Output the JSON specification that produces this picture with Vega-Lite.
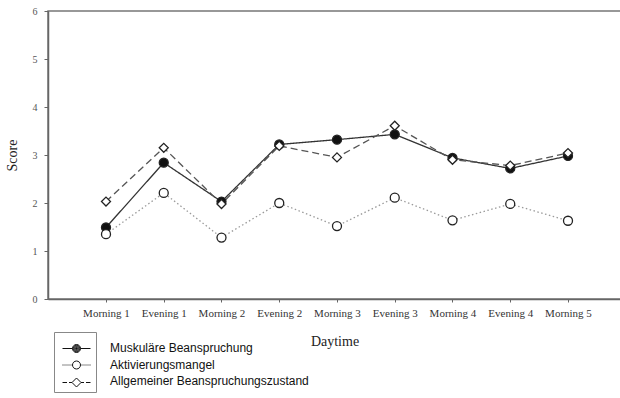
{
  "$schema": "https://vega.github.io/schema/vega-lite/v6.json",
  "autosize": "none",
  "width": 573,
  "height": 288,
  "padding": {"left": 48, "top": 11, "right": 0, "bottom": 99},
  "background": "white",
  "config": {
    "view": {"stroke": "#777", "strokeWidth": 1.5},
    "axis": {
      "grid": false,
      "labelFont": "Liberation Serif",
      "titleFont": "Liberation Serif",
      "titleFontWeight": "normal",
      "domainColor": "#666",
      "domainWidth": 1.5,
      "tickColor": "#666",
      "tickWidth": 1
    }
  },
  "data": {
    "values": [
      {"time": "Morning 1", "series": "Muskuläre Beanspruchung", "score": 1.49},
      {"time": "Evening 1", "series": "Muskuläre Beanspruchung", "score": 2.84},
      {"time": "Morning 2", "series": "Muskuläre Beanspruchung", "score": 2.03},
      {"time": "Evening 2", "series": "Muskuläre Beanspruchung", "score": 3.22},
      {"time": "Morning 3", "series": "Muskuläre Beanspruchung", "score": 3.32},
      {"time": "Evening 3", "series": "Muskuläre Beanspruchung", "score": 3.43},
      {"time": "Morning 4", "series": "Muskuläre Beanspruchung", "score": 2.94},
      {"time": "Evening 4", "series": "Muskuläre Beanspruchung", "score": 2.72},
      {"time": "Morning 5", "series": "Muskuläre Beanspruchung", "score": 2.98},
      {"time": "Morning 1", "series": "Aktivierungsmangel", "score": 1.35},
      {"time": "Evening 1", "series": "Aktivierungsmangel", "score": 2.21},
      {"time": "Morning 2", "series": "Aktivierungsmangel", "score": 1.28},
      {"time": "Evening 2", "series": "Aktivierungsmangel", "score": 2.0},
      {"time": "Morning 3", "series": "Aktivierungsmangel", "score": 1.52},
      {"time": "Evening 3", "series": "Aktivierungsmangel", "score": 2.11},
      {"time": "Morning 4", "series": "Aktivierungsmangel", "score": 1.64},
      {"time": "Evening 4", "series": "Aktivierungsmangel", "score": 1.98},
      {"time": "Morning 5", "series": "Aktivierungsmangel", "score": 1.63},
      {"time": "Morning 1", "series": "Allgemeiner Beanspruchungszustand", "score": 2.03},
      {"time": "Evening 1", "series": "Allgemeiner Beanspruchungszustand", "score": 3.15},
      {"time": "Morning 2", "series": "Allgemeiner Beanspruchungszustand", "score": 1.98},
      {"time": "Evening 2", "series": "Allgemeiner Beanspruchungszustand", "score": 3.19},
      {"time": "Morning 3", "series": "Allgemeiner Beanspruchungszustand", "score": 2.95},
      {"time": "Evening 3", "series": "Allgemeiner Beanspruchungszustand", "score": 3.61},
      {"time": "Morning 4", "series": "Allgemeiner Beanspruchungszustand", "score": 2.9},
      {"time": "Evening 4", "series": "Allgemeiner Beanspruchungszustand", "score": 2.78},
      {"time": "Morning 5", "series": "Allgemeiner Beanspruchungszustand", "score": 3.04}
    ]
  },
  "encoding": {
    "x": {
      "field": "time",
      "type": "nominal",
      "title": "Daytime",
      "scale": {
        "type": "point",
        "domain": ["Morning 1", "Evening 1", "Morning 2", "Evening 2", "Morning 3", "Evening 3", "Morning 4", "Evening 4", "Morning 5"],
        "padding": 0.961,
        "align": 0.5225
      },
      "axis": {
        "labelAngle": 0,
        "labelFontSize": 11,
        "labelColor": "#333",
        "labelPadding": 5,
        "tickSize": 3,
        "titleFontSize": 14,
        "titleColor": "#222",
        "titlePadding": 16
      }
    },
    "y": {
      "field": "score",
      "type": "quantitative",
      "title": "Score",
      "scale": {"domain": [0, 6], "nice": false},
      "axis": {
        "values": [0, 1, 2, 3, 4, 5, 6],
        "format": "d",
        "labelFontSize": 10,
        "labelColor": "#555",
        "labelPadding": 7,
        "tickSize": 4,
        "titleFontSize": 14,
        "titleColor": "#222",
        "titlePadding": 13
      }
    }
  },
  "layer": [
    {
      "mark": {"type": "line", "strokeWidth": 1.3},
      "encoding": {
        "color": {
          "field": "series",
          "type": "nominal",
          "scale": {
            "domain": ["Muskuläre Beanspruchung", "Aktivierungsmangel", "Allgemeiner Beanspruchungszustand"],
            "range": ["#333333", "#9a9a9a", "#555555"]
          },
          "legend": {
            "orient": "none",
            "legendX": 46,
            "legendY": 331,
            "title": null,
            "padding": 0,
            "symbolSize": 100,
            "symbolOpacity": 0,
            "labelOffset": 4,
            "labelFont": "Liberation Sans",
            "labelFontSize": 12,
            "labelColor": "#111",
            "labelLimit": 400,
            "rowPadding": 4.5
          }
        },
        "strokeDash": {
          "field": "series",
          "type": "nominal",
          "legend": null,
          "scale": {
            "domain": ["Muskuläre Beanspruchung", "Aktivierungsmangel", "Allgemeiner Beanspruchungszustand"],
            "range": [[1, 0], [1.5, 2.5], [7, 4]]
          }
        }
      }
    },
    {
      "mark": {"type": "point", "size": 81, "stroke": "#222", "strokeWidth": 1.3, "opacity": 1},
      "encoding": {
        "shape": {
          "field": "series",
          "type": "nominal",
          "legend": null,
          "scale": {
            "domain": ["Muskuläre Beanspruchung", "Aktivierungsmangel", "Allgemeiner Beanspruchungszustand"],
            "range": ["circle", "circle", "diamond"]
          }
        },
        "fill": {
          "field": "series",
          "type": "nominal",
          "legend": null,
          "scale": {
            "domain": ["Muskuläre Beanspruchung", "Aktivierungsmangel", "Allgemeiner Beanspruchungszustand"],
            "range": ["#111111", "white", "white"]
          }
        }
      }
    },
    {
      "mark": {"type": "point", "size": 100, "stroke": "#222", "strokeWidth": 1, "opacity": 0},
      "encoding": {
        "shape": {
          "field": "series",
          "type": "nominal",
          "scale": {
            "domain": ["Muskuläre Beanspruchung", "Aktivierungsmangel", "Allgemeiner Beanspruchungszustand"],
            "range": [
              "M-2.8,0H-0.8M0.8,0H2.8M0.8,0A0.8,0.8 0 1 1 -0.8,0A0.8,0.8 0 1 1 0.8,0ZM0.65,0A0.65,0.65 0 1 1 -0.65,0A0.65,0.65 0 1 1 0.65,0ZM0.5,0A0.5,0.5 0 1 1 -0.5,0A0.5,0.5 0 1 1 0.5,0ZM0.35,0A0.35,0.35 0 1 1 -0.35,0A0.35,0.35 0 1 1 0.35,0ZM0.2,0A0.2,0.2 0 1 1 -0.2,0A0.2,0.2 0 1 1 0.2,0ZM-0.1,0H0.1",
              "M-2.8,0h0.2M-2.4,0h0.2M-2,0h0.2M-1.6,0h0.2M-1.2,0h0.2M1,0h0.2M1.4,0h0.2M1.8,0h0.2M2.2,0h0.2M2.6,0h0.2M0.8,0A0.8,0.8 0 1 1 -0.8,0A0.8,0.8 0 1 1 0.8,0Z",
              "M-2.8,0H-1.9M-1.5,0H-0.9M0.9,0H1.5M1.9,0H2.8M0,-0.9L0.9,0L0,0.9L-0.9,0Z"
            ]
          },
          "legend": {
            "orient": "none",
            "legendX": 6,
            "legendY": 321,
            "title": " ",
            "titleFontSize": 4,
            "titlePadding": 3.5,
            "padding": 3,
            "strokeColor": "#888",
            "symbolSize": 100,
            "symbolOffset": 13.5,
            "symbolStrokeColor": "#111",
            "symbolStrokeWidth": 1,
            "labelExpr": "''",
            "labelFontSize": 12,
            "rowPadding": 4.5,
            "encode": {"symbols": {"opacity": {"value": 1}}}
          }
        }
      }
    }
  ],
  "resolve": {"scale": {"shape": "independent"}}
}
